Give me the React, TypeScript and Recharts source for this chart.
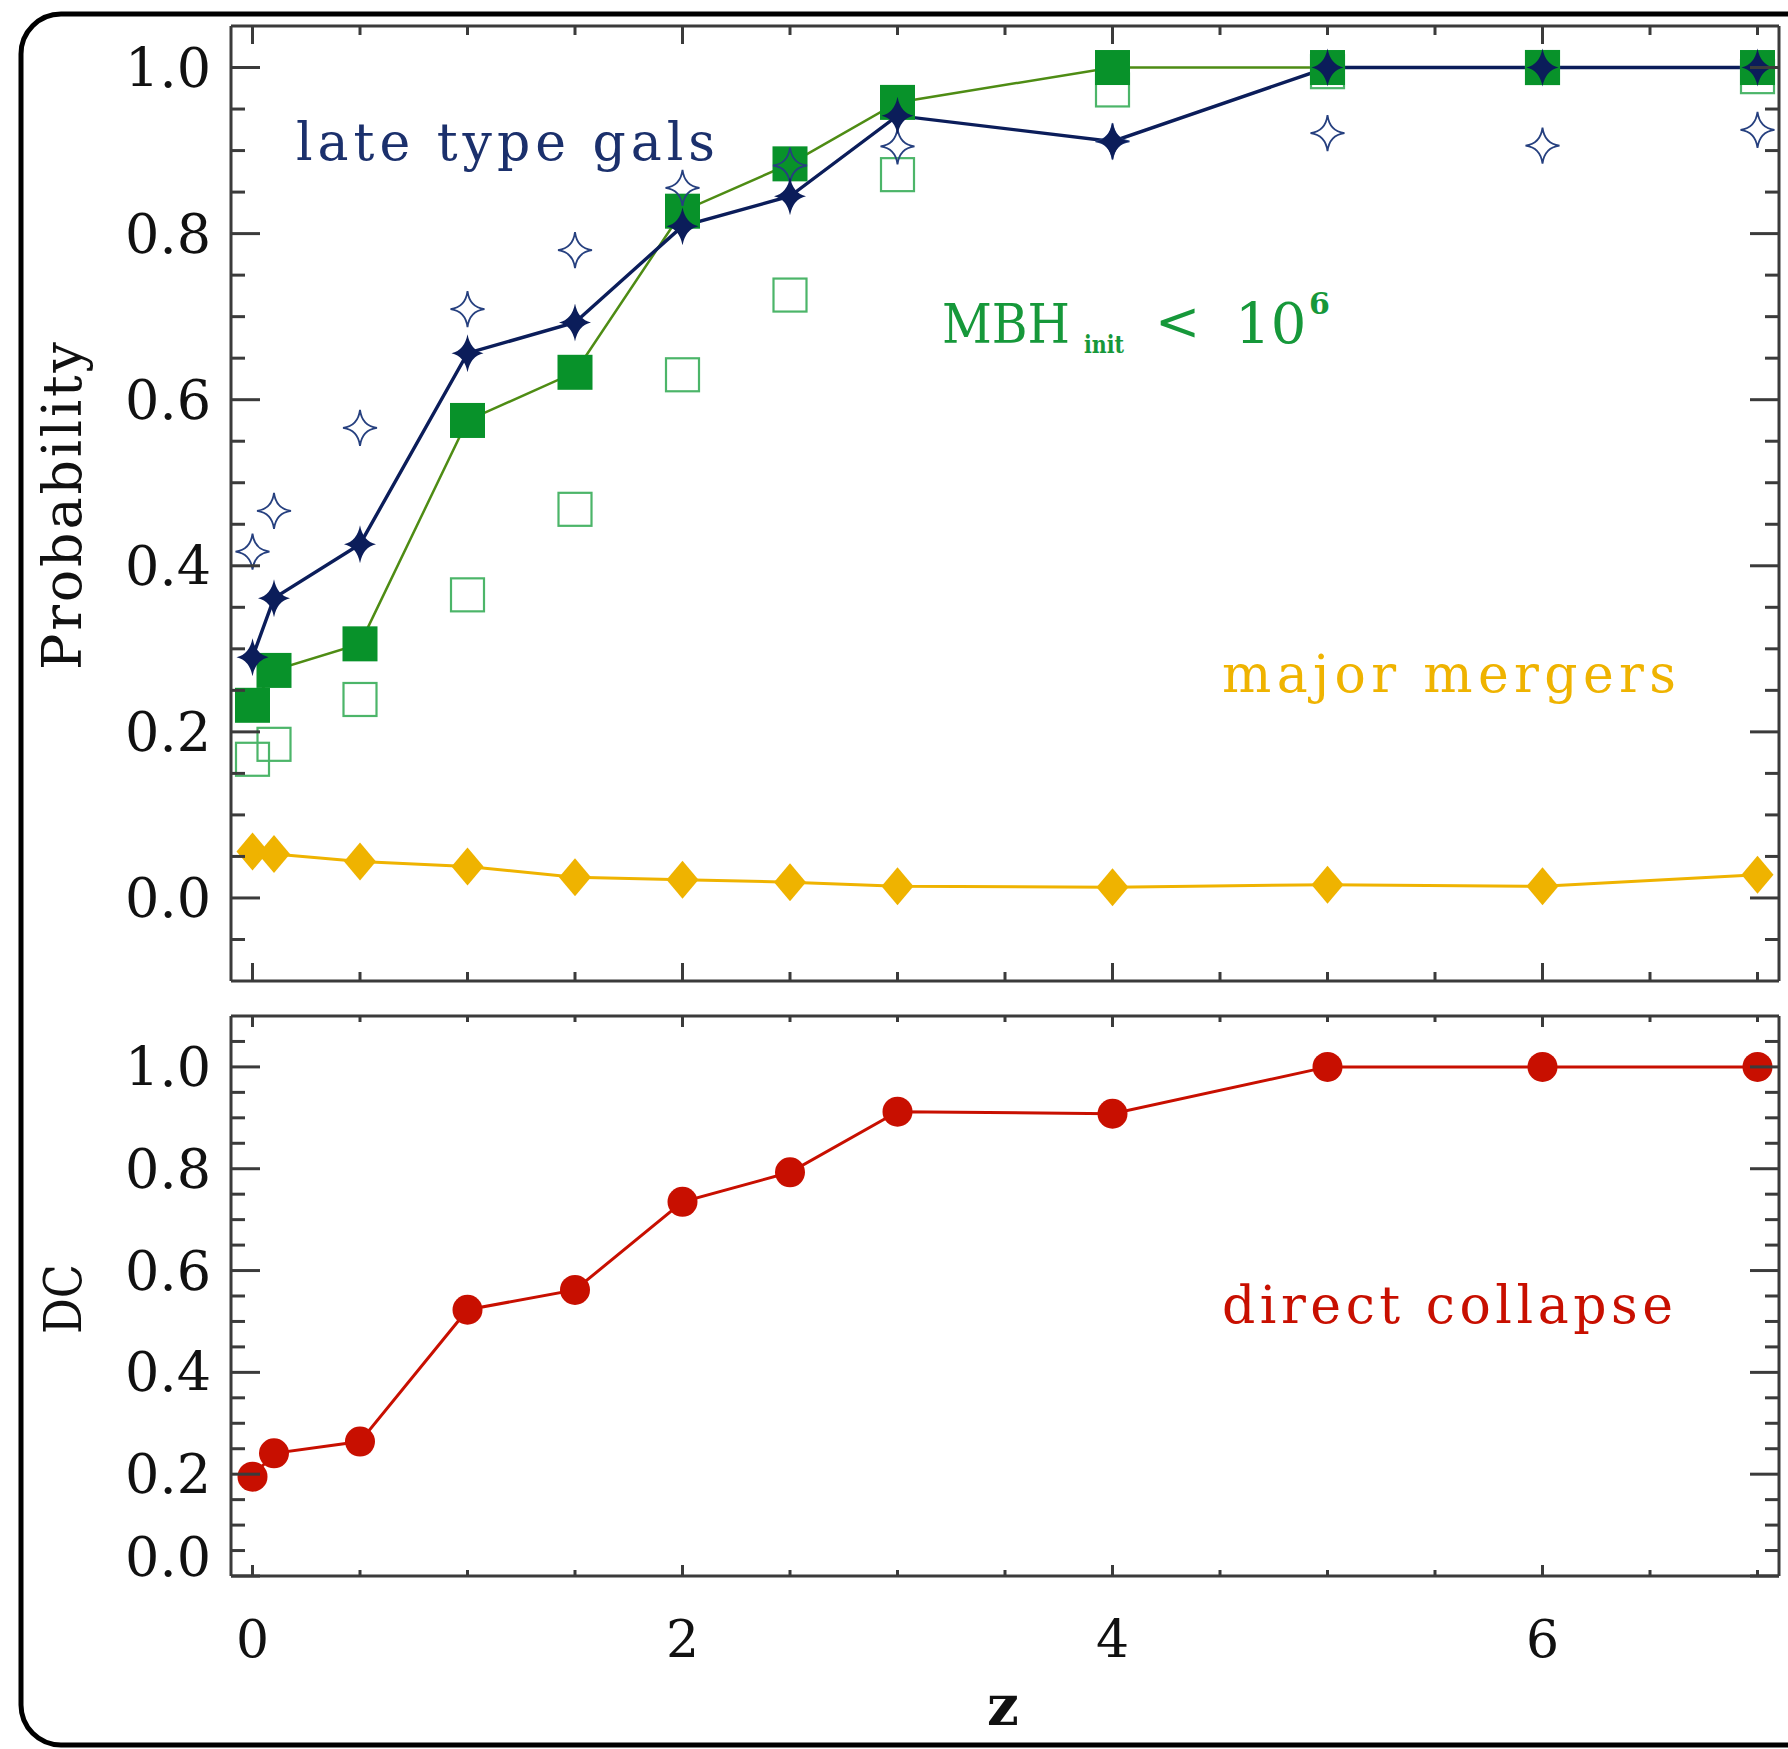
import React from "react";
import { ComposedChart, Line, XAxis, YAxis } from "recharts";

// redshift grid shared by both panels
const zValues = [0, 0.1, 0.5, 1, 1.5, 2, 2.5, 3, 4, 5, 6, 7];

// upper panel (probabilities)
const lateTypeFilled = [0.29, 0.361, 0.426, 0.656, 0.693, 0.809, 0.845, 0.942, 0.911, 1.0, 1.0, 1.0];
const lateTypeOpen = [0.417, 0.466, 0.566, 0.709, 0.78, 0.855, 0.882, 0.905, 0.911, 0.921, 0.906, 0.925];
const mbhFilled = [0.232, 0.274, 0.306, 0.575, 0.633, 0.827, 0.884, 0.958, 1.0, 1.0, 1.0, 1.0];
const mbhOpen = [0.167, 0.185, 0.239, 0.365, 0.468, 0.63, 0.726, 0.871, 0.973, 0.995, 1.0, 0.989];
const majorMergers = [0.056, 0.053, 0.044, 0.038, 0.025, 0.022, 0.019, 0.014, 0.013, 0.016, 0.014, 0.028];

// lower panel (direct collapse)
const directCollapse = [0.195, 0.241, 0.264, 0.523, 0.562, 0.735, 0.793, 0.912, 0.908, 1.0, 1.0, 1.0];

// ticks
const zTicks = [0, 0.5, 1, 1.5, 2, 2.5, 3, 3.5, 4, 4.5, 5, 5.5, 6, 6.5, 7];
const zLabels = [0, 2, 4, 6];
const probTicks = [
  -0.05, 0, 0.05, 0.1, 0.15, 0.2, 0.25, 0.3, 0.35, 0.4, 0.45, 0.5, 0.55, 0.6, 0.65, 0.7, 0.75, 0.8, 0.85, 0.9,
  0.95, 1.0,
];
const dcTicks = [
  0, 0.05, 0.1, 0.15, 0.2, 0.25, 0.3, 0.35, 0.4, 0.45, 0.5, 0.55, 0.6, 0.65, 0.7, 0.75, 0.8, 0.85, 0.9, 0.95, 1.0,
  1.05,
];
const yLabels = [0, 0.2, 0.4, 0.6, 0.8, 1.0];

const W = 1788;
const H = 1749;
const FONT = "'DejaVu Serif', serif";
const INK = "#111";
const AXIS = "#3b3b3b";
const NAVY = "#0b1d5a";
const NAVY_TEXT = "#1b306c";
const GREEN_FILL = "#08922a";
const GREEN_LINE = "#4e8c14";
const GREEN_OPEN = "#4cb569";
const GREEN_TEXT = "#16983a";
const YELLOW = "#efb300";
const RED = "#c80f00";

const topRows = zValues.map((z, i) => ({
  z,
  lateTypeFilled: lateTypeFilled[i],
  lateTypeOpen: lateTypeOpen[i],
  mbhFilled: mbhFilled[i],
  mbhOpen: mbhOpen[i],
  majorMergers: majorMergers[i],
}));
const bottomRows = zValues.map((z, i) => ({ z, directCollapse: directCollapse[i] }));

const near = (list: number[], v: number) => list.some((t) => Math.abs(t - v) < 1e-6);

// 4-point star with concave sides
const starPath = (rx: number, ry: number, k: number) =>
  `M0,${-ry} Q${k},${-k} ${rx},0 Q${k},${k} 0,${ry} Q${-k},${k} ${-rx},0 Q${-k},${-k} 0,${-ry}Z`;

const marker = (shape: React.ReactNode) => (p: any) => {
  if (p.cx == null || p.cy == null) return <g key={`m-${p.index}`} />;
  return (
    <g key={`m-${p.dataKey}-${p.index}`} transform={`translate(${p.cx},${p.cy})`}>
      {shape}
    </g>
  );
};

const filledStar = marker(<path d={starPath(16, 19, 3)} fill={NAVY} />);
const openStar = marker(<path d={starPath(17, 18, 2)} fill="none" stroke="#26407f" strokeWidth={1.8} />);
const filledSquare = marker(<rect x={-17.5} y={-17.5} width={35} height={35} fill={GREEN_FILL} />);
const openSquare = marker(
  <rect x={-16.5} y={-16.5} width={33} height={33} fill="none" stroke={GREEN_OPEN} strokeWidth={2.2} />
);
const diamond = marker(<path d="M0,-19 L16,0 L0,19 L-16,0 Z" fill={YELLOW} />);
const dot = marker(<circle r={15} fill={RED} />);

// inward ticks, labels outside
function yTick(side: "left" | "right", labels: number[], zeroLift = 0) {
  return (p: any) => {
    const v: number = p.payload.value;
    const major = near(yLabels, v);
    const dir = side === "left" ? 1 : -1;
    const len = major ? 29 : 14;
    const lift = Math.abs(v) < 1e-6 ? zeroLift : 0;
    return (
      <g>
        <line x1={p.x} y1={p.y} x2={p.x + dir * len} y2={p.y} stroke={AXIS} strokeWidth={3} />
        {near(labels, v) && (
          <text x={p.x - 20} y={p.y + 19 - lift} textAnchor="end" fontSize={54} fontFamily={FONT} fill={INK}>
            {v.toFixed(1)}
          </text>
        )}
      </g>
    );
  };
}

function xTick(side: "top" | "bottom", majorLen: number, minorLen: number, labels: number[]) {
  return (p: any) => {
    const v: number = p.payload.value;
    const major = near(zLabels, v);
    const dir = side === "bottom" ? -1 : 1;
    const len = major ? majorLen : minorLen;
    return (
      <g>
        <line x1={p.x} y1={p.y} x2={p.x} y2={p.y + dir * len} stroke={AXIS} strokeWidth={3} />
        {near(labels, v) && (
          <text x={p.x} y={p.y + 81} textAnchor="middle" fontSize={52} fontFamily={FONT} fill={INK}>
            {v}
          </text>
        )}
      </g>
    );
  };
}

const axisLine = { stroke: AXIS, strokeWidth: 3 };
const zDomain: [number, number] = [-0.1, 7.1];

// four framing axes; each is 1px thick so the tick origin sits on the plot edge
function Axes({ yTicks, yDomain, xMajor, xMinor, xLabels, zeroLift }: any) {
  return [
    <XAxis
      key="xb"
      xAxisId="b"
      type="number"
      dataKey="z"
      domain={zDomain}
      allowDataOverflow
      ticks={zTicks}
      interval={0}
      height={1}
      tickSize={0}
      tickMargin={0}
      tickLine={false}
      axisLine={axisLine}
      tick={xTick("bottom", xMajor, xMinor, xLabels)}
    />,
    <XAxis
      key="xt"
      xAxisId="t"
      orientation="top"
      type="number"
      dataKey="z"
      domain={zDomain}
      allowDataOverflow
      ticks={zTicks}
      interval={0}
      height={1}
      tickSize={0}
      tickMargin={0}
      tickLine={false}
      axisLine={axisLine}
      tick={xTick("top", xMajor, xMinor, [])}
    />,
    <YAxis
      key="yl"
      yAxisId="l"
      type="number"
      domain={yDomain}
      allowDataOverflow
      ticks={yTicks}
      interval={0}
      width={1}
      tickSize={0}
      tickMargin={0}
      tickLine={false}
      axisLine={axisLine}
      tick={yTick("left", yLabels, zeroLift)}
    />,
    <YAxis
      key="yr"
      yAxisId="r"
      orientation="right"
      type="number"
      domain={yDomain}
      allowDataOverflow
      ticks={yTicks}
      interval={0}
      width={1}
      tickSize={0}
      tickMargin={0}
      tickLine={false}
      axisLine={axisLine}
      tick={yTick("right", [])}
    />,
  ];
}

const series = { xAxisId: "b", yAxisId: "l", isAnimationActive: false, activeDot: false, legendType: "none" as const };

export default function App() {
  return (
    <div style={{ position: "absolute", left: 0, top: 0, width: W, height: H, background: "#fff" }}>
      <div style={{ position: "absolute", left: 0, top: 0 }}>
        <ComposedChart width={W} height={1000} data={topRows} margin={{ top: 25, right: 8, bottom: 18, left: 230 }}>
          {Axes({ yTicks: probTicks, yDomain: [-0.1, 1.05], xMajor: 18, xMinor: 9, xLabels: [] })}
          <Line {...series} dataKey="mbhOpen" stroke="none" dot={openSquare} />
          <Line {...series} dataKey="mbhFilled" stroke="none" dot={filledSquare} />
          <Line {...series} dataKey="mbhFilled" stroke={GREEN_LINE} strokeWidth={2.5} dot={false} />
          <Line {...series} dataKey="majorMergers" stroke={YELLOW} strokeWidth={3} dot={diamond} />
          <Line {...series} dataKey="lateTypeOpen" stroke="none" dot={openStar} />
          <Line {...series} dataKey="lateTypeFilled" stroke={NAVY} strokeWidth={3.4} dot={filledStar} />
        </ComposedChart>
      </div>
      <div style={{ position: "absolute", left: 0, top: 1000 }}>
        <ComposedChart width={W} height={749} data={bottomRows} margin={{ top: 15, right: 8, bottom: 172, left: 230 }}>
          {Axes({ yTicks: dcTicks, yDomain: [0, 1.1], xMajor: 11, xMinor: 6, xLabels: zLabels, zeroLift: 19 })}
          <Line {...series} dataKey="directCollapse" stroke={RED} strokeWidth={3} dot={dot} />
        </ComposedChart>
      </div>
      <svg
        width={W}
        height={H}
        style={{ position: "absolute", left: 0, top: 0, pointerEvents: "none" }}
        fontFamily={FONT}
      >
        <rect x={21} y={14} width={1850} height={1731} rx={40} fill="none" stroke="#000" strokeWidth={5} />
        <text x={296} y={160} fontSize={52} fill={NAVY_TEXT} textLength={419} lengthAdjust="spacing">
          late type gals
        </text>
        <text x={942} y={343} fontSize={54} fill={GREEN_TEXT} textLength={128} lengthAdjust="spacingAndGlyphs">
          MBH
        </text>
        <text
          x={1084}
          y={353}
          fontSize={25}
          fontWeight="bold"
          fill={GREEN_TEXT}
          textLength={40}
          lengthAdjust="spacingAndGlyphs"
        >
          init
        </text>
        <text fill={GREEN_TEXT}>
          <tspan x={1155} y={340} fontSize={54}>
            &lt;
          </tspan>
          <tspan x={1235} y={343} fontSize={56}>
            10
          </tspan>
          <tspan x={1309} y={314} fontSize={30} fontWeight="bold">
            6
          </tspan>
        </text>
        <text x={1222} y={692} fontSize={52} fill={YELLOW} textLength={454} lengthAdjust="spacing">
          major mergers
        </text>
        <text x={1222} y={1323} fontSize={52} fill={RED} textLength={451} lengthAdjust="spacing">
          direct collapse
        </text>
        <text
          x={81}
          y={506}
          transform="rotate(-90 81 506)"
          textAnchor="middle"
          fontSize={54}
          fill={INK}
          textLength={328}
          lengthAdjust="spacing"
        >
          Probability
        </text>
        <text
          x={81}
          y={1299}
          transform="rotate(-90 81 1299)"
          textAnchor="middle"
          fontSize={52}
          fill={INK}
          textLength={70}
          lengthAdjust="spacingAndGlyphs"
        >
          DC
        </text>
        <text x={1003} y={1725} textAnchor="middle" fontSize={56} fontWeight="bold" fill={INK}>
          z
        </text>
      </svg>
    </div>
  );
}
